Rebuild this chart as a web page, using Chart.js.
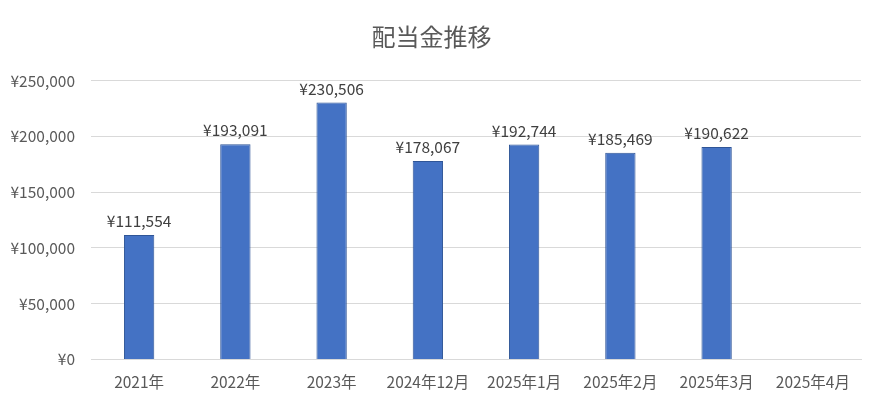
<!DOCTYPE html>
<html>
<head>
<meta charset="utf-8">
<script src="https://cdn.jsdelivr.net/npm/chart.js@4"></script>
<style>
  html, body { margin: 0; padding: 0; background: #fff; }
  #wrap { width: 880px; height: 411px; position: relative; }
</style>
</head>
<body>
<div id="wrap"><canvas id="dividendChart"></canvas></div>
<script>
// 配当金推移 - chart data
const categories = ['2021年', '2022年', '2023年', '2024年12月', '2025年1月', '2025年2月', '2025年3月', '2025年4月'];
const dividends = [111554, 193091, 230506, 178067, 192744, 185469, 190622, null];
const yTicks = [0, 50000, 100000, 150000, 200000, 250000];

const FONT = "'Noto Sans CJK JP', 'Noto Sans', sans-serif";
const TEXT_COLOR = '#595959';

function yen(v) {
    return '¥' + Number(v).toLocaleString('en-US');
}

// draws the value above each bar
const barValueLabels = {
    id: 'barValueLabels',
    afterDatasetsDraw(chart) {
        const ctx = chart.ctx;
        const meta = chart.getDatasetMeta(0);
        ctx.save();
        ctx.font = `15.5px ${FONT}`;
        ctx.fillStyle = '#404040';
        ctx.textAlign = 'center';
        ctx.textBaseline = 'bottom';
        meta.data.forEach((bar, i) => {
            const v = dividends[i];
            if (v == null) return;
            ctx.fillText(yen(v), bar.x, bar.y - 6);
        });
        ctx.restore();
    }
};

const ctx = document.getElementById('dividendChart').getContext('2d');
new Chart(ctx, {
    type: 'bar',
    data: {
        labels: categories,
        datasets: [{
            label: '配当金',
            data: dividends,
            backgroundColor: '#4472C4',
            borderColor: '#2F5597',
            borderWidth: 1,
            barPercentage: 0.63,
            categoryPercentage: 0.5
        }]
    },
    options: {
        responsive: true,
        maintainAspectRatio: false,
        animation: false,
        layout: { padding: { left: 2, right: 19, top: 0, bottom: 7 } },
        plugins: {
            legend: { display: false },
            tooltip: { enabled: false },
            title: {
                display: true,
                text: '配当金推移',
                color: TEXT_COLOR,
                font: { family: FONT, size: 24, weight: 'normal' },
                padding: { top: 22, bottom: 30 }
            }
        },
        scales: {
            x: {
                grid: { display: false, drawTicks: false },
                border: { color: '#d9d9d9' },
                ticks: {
                    color: TEXT_COLOR,
                    font: { family: FONT, size: 15.5 },
                    padding: 13,
                    maxRotation: 0,
                    autoSkip: false
                }
            },
            y: {
                min: 0,
                max: 250000,
                afterBuildTicks(axis) {
                    axis.ticks = yTicks.map(v => ({ value: v }));
                },
                afterFit(axis) {
                    axis.width = 89;
                },
                grid: { color: '#d9d9d9', drawTicks: false },
                border: { display: false },
                ticks: {
                    color: TEXT_COLOR,
                    font: { family: FONT, size: 15.5 },
                    padding: 16,
                    callback: v => yen(v)
                }
            }
        }
    },
    plugins: [barValueLabels]
});
</script>
</body>
</html>
